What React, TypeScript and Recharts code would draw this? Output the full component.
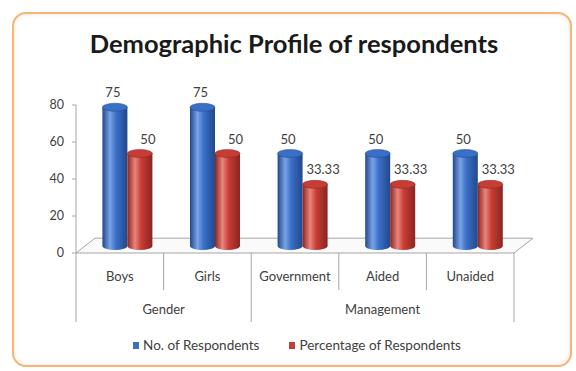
import React from "react";
import { BarChart, Bar, XAxis, YAxis, Legend, LabelList, ReferenceArea } from "recharts";

const categories = ["Boys", "Girls", "Government", "Aided", "Unaided"];
const groups = ["Gender", "Gender", "Management", "Management", "Management"];
const respondents = [75, 75, 50, 50, 50];
const percentage = [50, 50, 33.33, 33.33, 33.33];
const yTicks = [0, 20, 40, 60, 80];

const data = categories.map((name, i) => ({
  name,
  group: groups[i],
  respondents: respondents[i],
  percentage: percentage[i],
}));

const W = 576;
const H = 371;
const MARGIN = { top: 105, right: 62, bottom: 14, left: 0 };
const Y_AXIS_W = 76;
const PLOT_W = W - MARGIN.left - MARGIN.right - Y_AXIS_W;
const BAND = PLOT_W / categories.length;
// fake 3D depth: bars sit halfway back on the floor
const DEPTH_X = 8;
const DEPTH_Y = -7;
const FONT = "Lato, 'Open Sans', sans-serif";
const TEXT = "#404040";
const LINE = "#a6a6a6";

const BLUE = { main: "#3a6fc6", dark: "#21488c", light: "#78a3e6" };
const RED = { main: "#c63d35", dark: "#8a2420", light: "#e9857c" };

function makeCylinder(id: string, c: { main: string; dark: string; light: string }) {
  return (props: any) => {
    const { x, y, width, height } = props;
    if (width == null || height == null) return null;
    const rx = width / 2;
    const ry = 4;
    const left = x + DEPTH_X;
    const right = left + width;
    const cx = left + rx;
    const top = y + DEPTH_Y;
    const bottom = y + height + DEPTH_Y;
    return (
      <g>
        <defs>
          <linearGradient id={id} x1="0" y1="0" x2="1" y2="0">
            <stop offset="0%" stopColor={c.dark} />
            <stop offset="30%" stopColor={c.light} />
            <stop offset="55%" stopColor={c.main} />
            <stop offset="100%" stopColor={c.dark} />
          </linearGradient>
        </defs>
        <path
          d={`M${left},${top} L${left},${bottom} A${rx},${ry} 0 0 0 ${right},${bottom} L${right},${top} Z`}
          fill={`url(#${id})`}
        />
        <ellipse cx={cx} cy={top} rx={rx} ry={ry} fill={c.main} stroke={c.dark} strokeWidth={0.5} />
      </g>
    );
  };
}

const BlueCylinder = makeCylinder("gradBlue", BLUE);
const RedCylinder = makeCylinder("gradRed", RED);

function makeLabel(shift: number) {
  return (props: any) => {
    const { x, y, width, value } = props;
    return (
      <text
        x={x + width / 2 + DEPTH_X + shift}
        y={y - 17}
        textAnchor="middle"
        fontSize={13}
        fontFamily={FONT}
        fill={TEXT}
      >
        {value}
      </text>
    );
  };
}

function Floor(props: any) {
  const { x, y, width, height } = props;
  const d = 19;
  return (
    <path
      d={`M${x},${y + height} L${x + d},${y} L${x + width + d},${y} L${x + width},${y + height} Z`}
      fill="#fafafa"
      stroke={LINE}
      strokeWidth={1}
    />
  );
}

function CategoryTick(props: any) {
  const { x, y, index, payload } = props;
  const left = x - BAND / 2;
  const right = x + BAND / 2;
  const g = groups[index];
  const groupStart = index === 0 || groups[index - 1] !== g;
  const last = index === categories.length - 1;
  const count = groups.filter((v) => v === g).length;
  return (
    <g>
      <line x1={left} y1={y} x2={left} y2={y + (groupStart ? 69 : 37)} stroke={LINE} />
      {last && <line x1={right} y1={y} x2={right} y2={y + 69} stroke={LINE} />}
      <text x={x} y={y + 28} textAnchor="middle" fontSize={13} fontFamily={FONT} fill={TEXT}>
        {payload.value}
      </text>
      {groupStart && (
        <text
          x={left + (count * BAND) / 2}
          y={y + 61}
          textAnchor="middle"
          fontSize={13}
          fontFamily={FONT}
          fill={TEXT}
        >
          {g}
        </text>
      )}
    </g>
  );
}

function LegendContent(props: any) {
  const items = props.payload || [];
  return (
    <div
      style={{
        height: 24,
        display: "flex",
        justifyContent: "center",
        alignItems: "center",
        gap: 30,
        fontFamily: FONT,
        fontSize: 13.5,
        color: TEXT,
        paddingLeft: 18,
      }}
    >
      {items.map((it: any) => (
        <span key={it.value} style={{ display: "flex", alignItems: "center", gap: 4 }}>
          <span style={{ width: 6, height: 7, background: it.color, display: "inline-block" }} />
          {it.value}
        </span>
      ))}
    </div>
  );
}

export default function App() {
  return (
    <div style={{ position: "fixed", left: 0, top: 0, width: W, height: H, background: "#fff" }}>
      <div
        style={{
          position: "absolute",
          left: 12,
          top: 12,
          width: 556,
          height: 351,
          border: "2px solid #f3b57a",
          borderRadius: 14,
          boxShadow: "inset 0 0 4px rgba(240,170,110,0.35)",
        }}
      />
      <div
        style={{
          position: "absolute",
          left: 0,
          width: W,
          top: 28,
          textAlign: "center",
          fontFamily: FONT,
          fontWeight: 700,
          fontSize: 25.5,
          color: "#1a1a1a",
          paddingLeft: 12,
          boxSizing: "border-box",
        }}
      >
        Demographic Profile of respondents
      </div>
      <BarChart
        width={W}
        height={H}
        data={data}
        margin={MARGIN}
        barCategoryGap="21%"
        barGap={0}
        style={{ position: "absolute", left: 0, top: 0 }}
      >
        <ReferenceArea y1={0} y2={8} shape={<Floor />} ifOverflow="visible" />
        <YAxis
          width={Y_AXIS_W}
          domain={[0, 80]}
          ticks={yTicks}
          tick={{ fill: TEXT, fontSize: 12.5, fontFamily: FONT }}
          tickSize={4}
          tickMargin={8}
          axisLine={{ stroke: LINE }}
          tickLine={{ stroke: LINE }}
        />
        <XAxis
          dataKey="name"
          height={80}
          interval={0}
          axisLine={false}
          tickLine={false}
          tickSize={0}
          tickMargin={0}
          tick={<CategoryTick />}
        />
        <Legend
          verticalAlign="bottom"
          wrapperStyle={{ left: 0, width: W }}
          content={<LegendContent />}
        />
        <Bar
          dataKey="respondents"
          name="No. of Respondents"
          fill={BLUE.main}
          shape={BlueCylinder}
          isAnimationActive={false}
        >
          <LabelList dataKey="respondents" content={makeLabel(-2)} />
        </Bar>
        <Bar
          dataKey="percentage"
          name="Percentage of Respondents"
          fill={RED.main}
          shape={RedCylinder}
          isAnimationActive={false}
        >
          <LabelList dataKey="percentage" content={makeLabel(8)} />
        </Bar>
      </BarChart>
    </div>
  );
}
